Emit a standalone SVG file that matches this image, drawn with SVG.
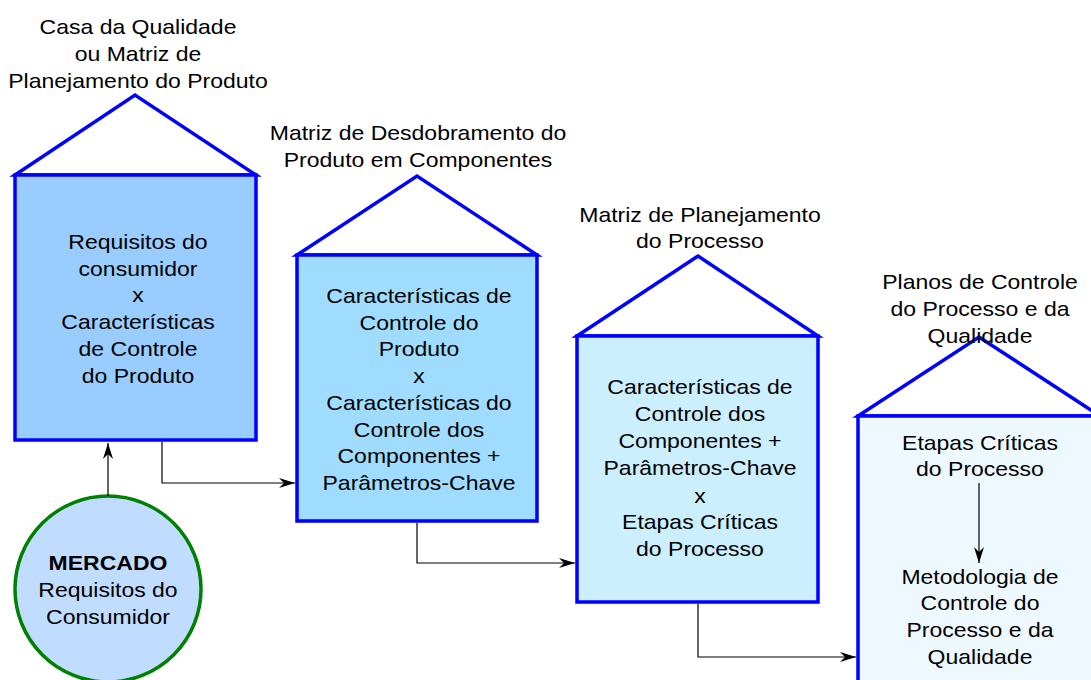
<svg xmlns="http://www.w3.org/2000/svg" width="1091" height="680" viewBox="0 0 1091 680">
<defs>
<style>
.roof{fill:#ffffff;stroke:#0000ff;stroke-width:3.5;stroke-linejoin:miter}
.box{stroke:#0000ff;stroke-width:3.5}
.t{font-family:"Liberation Sans",Arial,sans-serif;font-size:20px;fill:#000;text-anchor:middle}
.b{font-weight:bold}
.c{fill:none;stroke:#000;stroke-width:1.2}
</style>
<marker id="ah" viewBox="0 0 16 10" refX="16" refY="5" markerWidth="16" markerHeight="10" markerUnits="userSpaceOnUse" orient="auto">
<path d="M0,0 L16,5 L0,10 L5,5 z" fill="#000"/>
</marker>
</defs>
<rect width="1091" height="680" fill="#ffffff"/>

<g id="house1">
<polygon class="roof" points="15,175 135,95 256,175"/>
<rect class="box" x="15" y="175" width="241" height="265" fill="#99ccff"/>
<text class="t" transform="translate(138 0) scale(1.15 1)"><tspan x="0" y="34">Casa da Qualidade</tspan><tspan x="0" y="61">ou Matriz de</tspan><tspan x="0" y="88">Planejamento do Produto</tspan></text>
<text class="t" transform="translate(138 0) scale(1.15 1)"><tspan x="0" y="249">Requisitos do</tspan><tspan x="0" y="276">consumidor</tspan><tspan x="0" y="302">x</tspan><tspan x="0" y="329">Características</tspan><tspan x="0" y="356">de Controle</tspan><tspan x="0" y="383">do Produto</tspan></text>
</g>

<g id="house2">
<polygon class="roof" points="297,255 417,176 537,255"/>
<rect class="box" x="297" y="255" width="240" height="266" fill="#a0dcff"/>
<text class="t" transform="translate(418 0) scale(1.15 1)"><tspan x="0" y="140">Matriz de Desdobramento do</tspan><tspan x="0" y="167">Produto em Componentes</tspan></text>
<text class="t" transform="translate(419 0) scale(1.15 1)"><tspan x="0" y="303">Características de</tspan><tspan x="0" y="330">Controle do</tspan><tspan x="0" y="356">Produto</tspan><tspan x="0" y="383">x</tspan><tspan x="0" y="410">Características do</tspan><tspan x="0" y="437">Controle dos</tspan><tspan x="0" y="463">Componentes +</tspan><tspan x="0" y="490">Parâmetros-Chave</tspan></text>
</g>

<g id="house3">
<polygon class="roof" points="577,336 698,256 818,336"/>
<rect class="box" x="577" y="336" width="241" height="266" fill="#ccefff"/>
<text class="t" transform="translate(700 0) scale(1.15 1)"><tspan x="0" y="222">Matriz de Planejamento</tspan><tspan x="0" y="248">do Processo</tspan></text>
<text class="t" transform="translate(700 0) scale(1.15 1)"><tspan x="0" y="394">Características de</tspan><tspan x="0" y="421">Controle dos</tspan><tspan x="0" y="448">Componentes +</tspan><tspan x="0" y="475">Parâmetros-Chave</tspan><tspan x="0" y="503">x</tspan><tspan x="0" y="529">Etapas Críticas</tspan><tspan x="0" y="556">do Processo</tspan></text>
</g>

<g id="house4">
<polygon class="roof" points="858,416 979,337 1100,416"/>
<rect class="box" x="858" y="416" width="250" height="280" fill="#eef9ff"/>
<text class="t" transform="translate(980 0) scale(1.15 1)"><tspan x="0" y="289">Planos de Controle</tspan><tspan x="0" y="316">do Processo e da</tspan><tspan x="0" y="343">Qualidade</tspan></text>
<text class="t" transform="translate(980 0) scale(1.15 1)"><tspan x="0" y="450">Etapas Críticas</tspan><tspan x="0" y="476">do Processo</tspan></text>
<text class="t" transform="translate(980 0) scale(1.15 1)"><tspan x="0" y="584">Metodologia de</tspan><tspan x="0" y="610">Controle do</tspan><tspan x="0" y="637">Processo e da</tspan><tspan x="0" y="664">Qualidade</tspan></text>
</g>

<g id="mercado">
<circle cx="108" cy="589" r="93" fill="#c0dcff" stroke="#008000" stroke-width="3.5"/>
<text class="t" transform="translate(108 0) scale(1.15 1)"><tspan x="0" y="570" class="b">MERCADO</tspan><tspan x="0" y="597">Requisitos do</tspan><tspan x="0" y="624">Consumidor</tspan></text>
</g>

<g id="connectors">
<path class="c" d="M108,496 L108,443" marker-end="url(#ah)"/>
<path class="c" d="M162,442 L162,483 L295,483" marker-end="url(#ah)"/>
<path class="c" d="M417,523 L417,563 L575,563" marker-end="url(#ah)"/>
<path class="c" d="M698,604 L698,657 L856,657" marker-end="url(#ah)"/>
<path class="c" d="M979,483 L979,563" marker-end="url(#ah)"/>
</g>
</svg>
